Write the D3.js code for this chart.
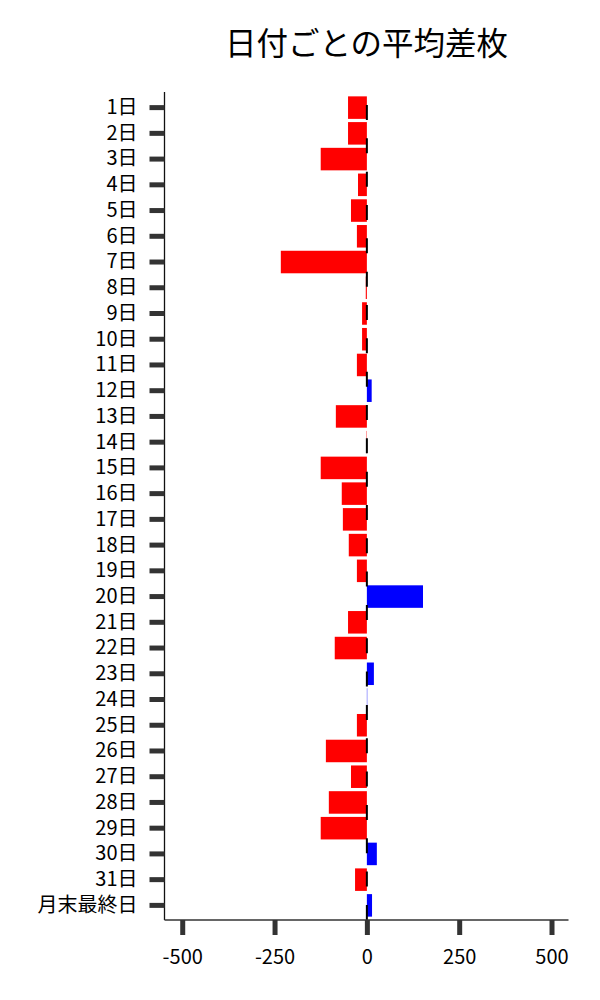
<!DOCTYPE html>
<html>
<head>
<meta charset="utf-8">
<script src="https://cdn.jsdelivr.net/npm/d3@7"></script>
<style>
  html, body { margin: 0; padding: 0; background: #fff; }
  text { font-family: "Noto Sans CJK JP", "Noto Sans", sans-serif; }
</style>
</head>
<body>
<svg id="chart" width="600" height="1000"></svg>
<script>
const title = "日付ごとの平均差枚";
const categories = ["1日","2日","3日","4日","5日","6日","7日","8日","9日","10日",
  "11日","12日","13日","14日","15日","16日","17日","18日","19日","20日",
  "21日","22日","23日","24日","25日","26日","27日","28日","29日","30日","31日","月末最終日"];
const values = [-51, -51, -125, -24, -43, -27, -233, -3, -13, -13,
  -27, 13, -84, -1, -125, -68, -65, -49, -27, 152,
  -51, -87, 19, 1, -27, -111, -43, -103, -125, 27, -32, 14];
const xTicks = [-500, -250, 0, 250, 500];

const svg = d3.select("#chart");
const plotLeft = 164.5, plotRight = 568.5, plotTop = 92, plotBottom = 920;

const x = d3.scaleLinear().domain([-548, 546]).range([plotLeft, plotRight]);
const y = d3.scaleBand().domain(categories).range([plotTop + 0.5, plotBottom + 0.5])
  .paddingInner(0.125).paddingOuter(0.15);

// bars
svg.append("g").selectAll("rect").data(categories).join("rect")
  .attr("x", (d, i) => x(Math.min(0, values[i])))
  .attr("width", (d, i) => Math.abs(x(values[i]) - x(0)))
  .attr("y", d => y(d))
  .attr("height", y.bandwidth())
  .attr("fill", (d, i) => values[i] >= 0 ? "#0000ff" : "#ff0000");

// zero dashed line
svg.append("line")
  .attr("x1", x(0)).attr("x2", x(0))
  .attr("y1", 105).attr("y2", plotBottom)
  .attr("stroke", "#000").attr("stroke-width", 2)
  .attr("stroke-dasharray", "15,18.33");

// y axis
const yAxis = svg.append("g").attr("transform", `translate(${plotLeft},0)`)
  .call(d3.axisLeft(y).tickSize(15).tickPadding(12));
yAxis.select(".domain").attr("stroke", "#111").attr("stroke-width", 1.3)
  .attr("d", `M0,${plotTop}V${plotBottom}`);
yAxis.selectAll(".tick line").attr("stroke", "#333").attr("stroke-width", 5);
yAxis.selectAll(".tick text").attr("font-size", 20).attr("fill", "#000")
  .style("font-family", '"Noto Sans CJK JP", sans-serif');

// x axis
const xAxis = svg.append("g").attr("transform", `translate(0,${plotBottom})`)
  .call(d3.axisBottom(x).tickValues(xTicks).tickFormat(d => String(d)).tickSize(15).tickPadding(15));
xAxis.select(".domain").attr("stroke", "#333").attr("stroke-width", 1.3)
  .attr("d", `M${plotLeft},0H${plotRight}`);
xAxis.selectAll(".tick line").attr("stroke", "#333").attr("stroke-width", 5);
xAxis.selectAll(".tick text").attr("font-size", 20).attr("fill", "#000")
  .style("font-family", '"Noto Sans CJK JP", sans-serif');

// title
svg.append("text").attr("x", (plotLeft + plotRight) / 2).attr("y", 55)
  .attr("text-anchor", "middle").attr("font-size", 31.5).attr("fill", "#000")
  .text(title);
</script>
</body>
</html>
